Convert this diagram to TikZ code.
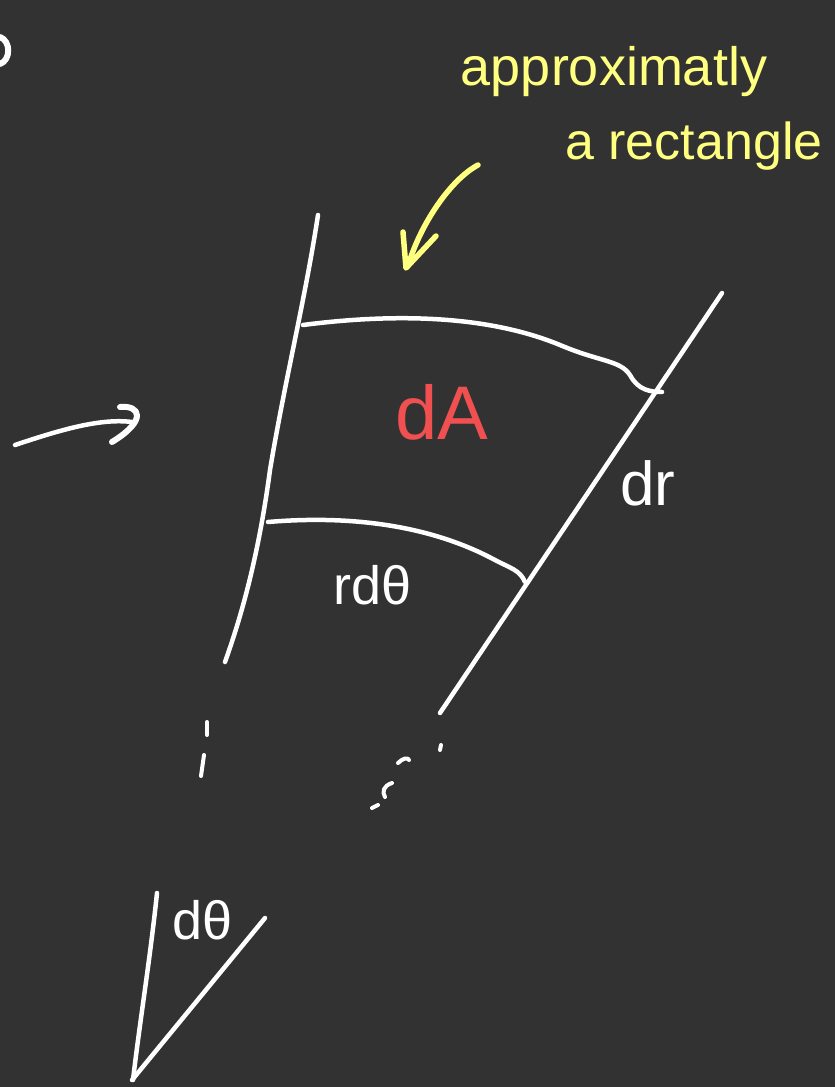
\documentclass[tikz,border=0pt]{standalone}
\usepackage{fontspec}
\setmainfont{Liberation Sans}
\definecolor{bg}{HTML}{323232}
\definecolor{hy}{HTML}{FFFF80}
\definecolor{hr}{HTML}{F05050}
\begin{document}
\begin{tikzpicture}[x=1pt,y=-1pt,
  pen/.style={draw=white,line width=4.5pt,line cap=round,line join=round},
  ypen/.style={draw=hy,line width=5.5pt,line cap=round,line join=round},
  wlabel/.style={text=white,inner sep=0pt},
  ylabel/.style={text=hy,inner sep=0pt}]
\fill[bg] (0,0) rectangle (835,1087);
\useasboundingbox (0,0) rectangle (835,1087);
% cut-off mark at left edge
\draw[pen,line width=6pt] (0,37) .. controls (11,41) and (11,60) .. (0,64);
% left radial line
\draw[pen] (318,215) .. controls (305,300) and (285,380) .. (270,470) .. controls (258,560) and (240,620) .. (225,662);
% right radial line
\draw[pen] (722,293) -- (440,713);
% outer arc
\draw[pen] (303,325) .. controls (380,315) and (480,312) .. (560,345) .. controls (600,362) and (620,360) .. (630,375) .. controls (638,390) and (650,392) .. (662,392);
% inner arc
\draw[pen] (268,522) .. controls (350,515) and (430,525) .. (495,560) .. controls (510,568) and (520,570) .. (525,582);
% labels
\node[text=hr,inner sep=0pt,font=\fontsize{76}{76}\selectfont] (dA) at (442,412) {dA};
\node[wlabel,font=\fontsize{62}{62}\selectfont] (dr) at (648,483) {dr};
\node[wlabel,font=\fontsize{54}{54}\selectfont] (rdt) at (373,585) {rdθ};
% yellow annotation
\node[ylabel,font=\fontsize{54}{54}\selectfont] (t1) at (614,72) {approximatly};
\node[ylabel,font=\fontsize{52}{52}\selectfont] (t2) at (694,146) {a rectangle};
\draw[ypen] (478,165) .. controls (450,180) and (420,225) .. (408,266);
\draw[ypen] (403,232) -- (406,268) -- (436,236);
% white arrow on the left
\draw[pen] (15,445) .. controls (60,430) and (100,418) .. (132,422);
\draw[pen,line width=6pt] (120,407) .. controls (140,405) and (148,420) .. (112,442);
% dots
\draw[pen,line width=4pt] (207,722) -- (207,735);
\draw[pen,line width=4pt] (204,755) -- (201,776);
\draw[pen,line width=4pt] (441,745) -- (440,750);
\draw[pen,line width=4pt] (398,763) .. controls (403,758) and (408,757) .. (409,760);
\draw[pen,line width=4pt] (392,783) .. controls (383,786) and (382,792) .. (385,797);
\draw[pen,line width=4pt] (372,808) -- (378,805);
% d theta angle
\draw[pen] (157,893) .. controls (150,960) and (140,1020) .. (133,1080);
\draw[pen] (265,918) -- (132,1080);
\node[wlabel,font=\fontsize{54}{54}\selectfont] (dt) at (203,920) {dθ};
\end{tikzpicture}
\end{document}
